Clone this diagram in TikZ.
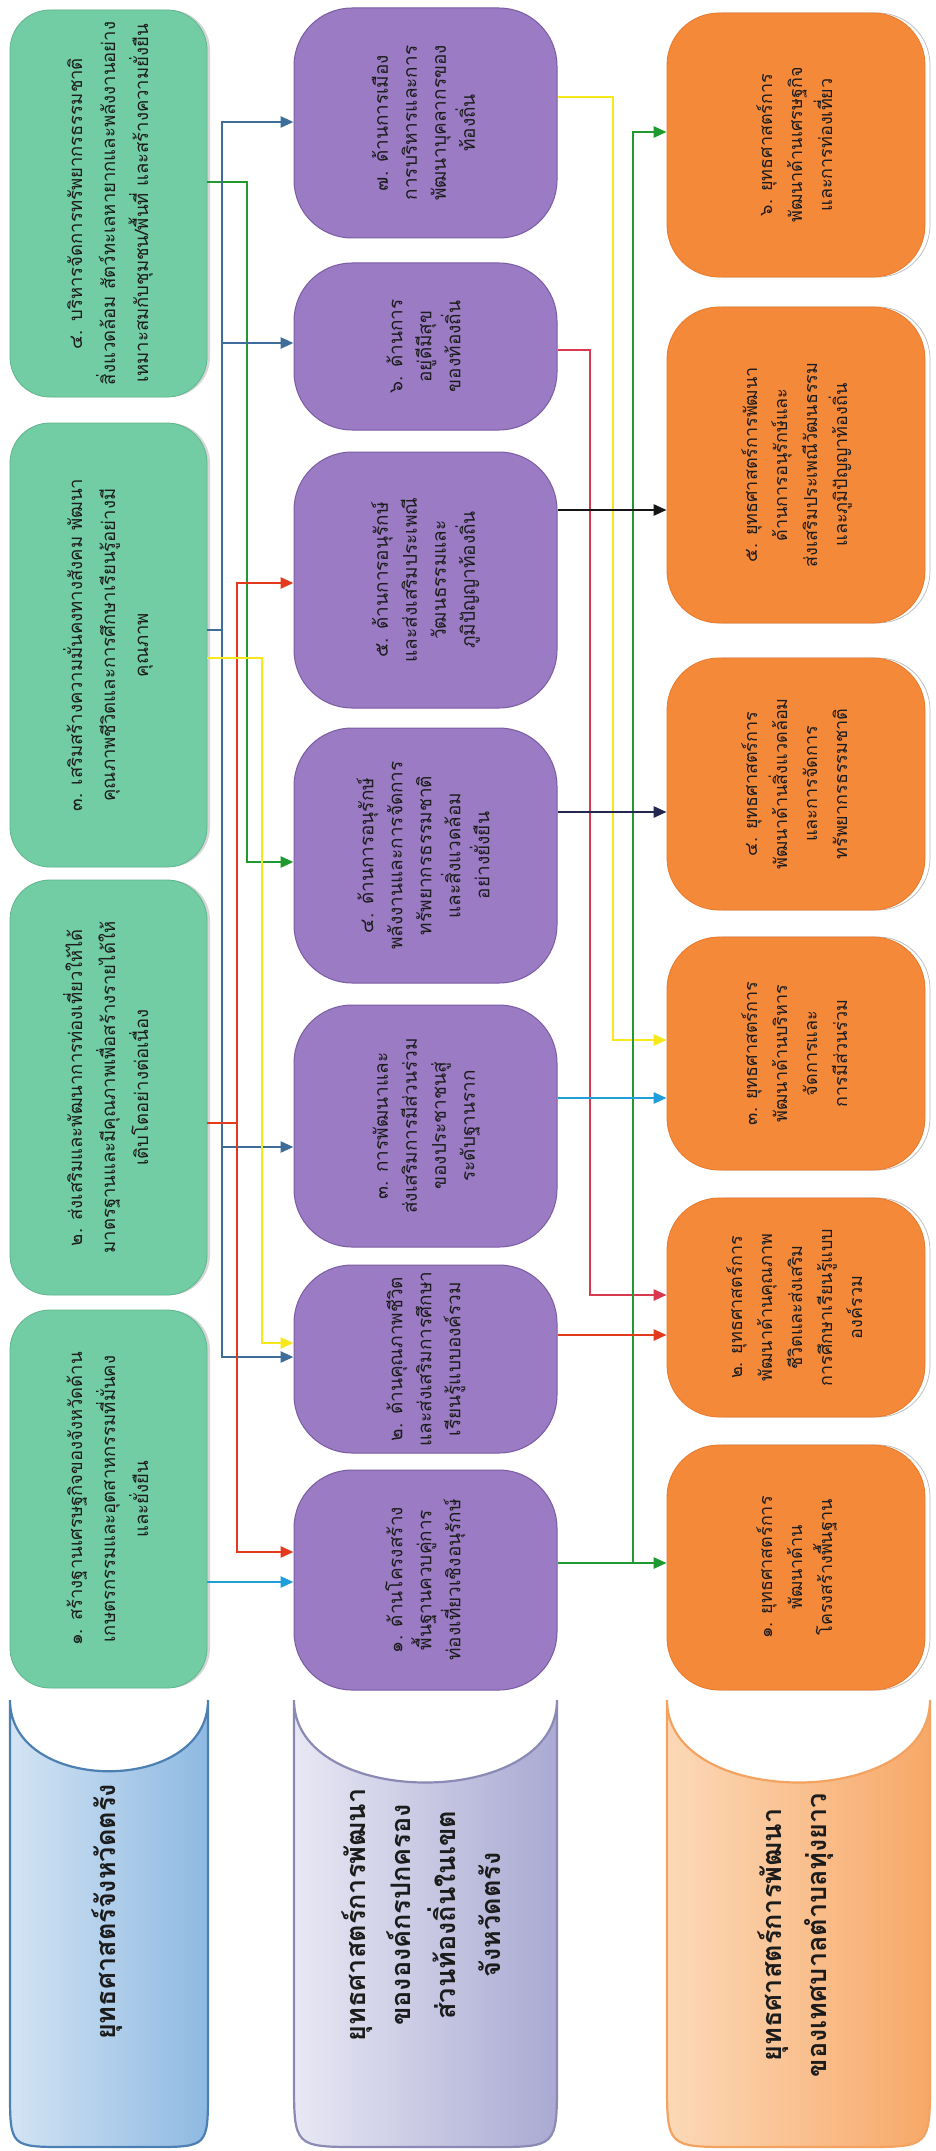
\documentclass[tikz,border=0pt]{standalone}
\usepackage{fontspec}
\newfontfamily\thai[Script=Thai]{Loma}
\usetikzlibrary{arrows.meta,shadows}
\definecolor{gfill}{HTML}{72CDA4}
\definecolor{gedge}{HTML}{5DB58E}
\definecolor{pfill}{HTML}{9B7CC4}
\definecolor{pedge}{HTML}{7A5CA2}
\definecolor{ofill}{HTML}{F5893A}
\definecolor{oedge}{HTML}{E9772A}
\definecolor{txt}{HTML}{1C1C1C}
\definecolor{csteel}{HTML}{3D6D98}
\definecolor{cred}{HTML}{E33A1E}
\definecolor{cgreen}{HTML}{1F9A30}
\definecolor{cyellow}{HTML}{F7E81A}
\definecolor{ccyan}{HTML}{1E9FD9}
\definecolor{cblack}{HTML}{151515}
\definecolor{cnavy}{HTML}{252650}
\definecolor{cpink}{HTML}{D8394F}
\definecolor{lbl}{HTML}{D3E4F4}
\definecolor{lbr}{HTML}{8EB9E2}
\definecolor{lbedge}{HTML}{4D80B2}
\definecolor{lvl}{HTML}{E8E8F4}
\definecolor{lvr}{HTML}{A9A9D3}
\definecolor{lvedge}{HTML}{8A8AB5}
\definecolor{lpl}{HTML}{FCD9B8}
\definecolor{lpr}{HTML}{F7A868}
\definecolor{lpedge}{HTML}{F3A260}
\newcommand{\vtx}[1]{\rotatebox{90}{\begin{tabular}{@{}c@{}}#1\end{tabular}}}
\tikzset{
  gbox/.style={draw=gedge, line width=0.8pt, fill=gfill, rounded corners=40pt, inner sep=0pt,
    general shadow={shadow xshift=3pt, fill=gray!55, opacity=0.6},
    text=txt, font=\thai\fontsize{18.5}{33}\selectfont},
  pbox/.style={draw=pedge, line width=1pt, fill=pfill, rounded corners=58pt, inner sep=0pt,
    text=txt, font=\thai\fontsize{19}{29}\selectfont},
  obox/.style={draw=oedge, line width=0.8pt, fill=ofill, rounded corners=52pt, inner sep=0pt,
    general shadow={shadow xshift=5pt, fill=white, draw=gray!55, line width=0.7pt},
    text=txt, font=\thai\fontsize{18}{30}\selectfont},
  legtext/.style={inner sep=0pt, text=txt, font=\thai\bfseries\fontsize{27}{45}\selectfont},
  conn/.style={line width=2.6pt, line join=miter},
  arr/.style={-{Triangle[length=13pt,width=11pt]}}
}
\begin{document}
\begin{tikzpicture}[x=1pt,y=-1pt]
\useasboundingbox (0,0) rectangle (935,2151);
\fill[white] (0,0) rectangle (935,2151);

% green column
\node[gbox, minimum width=197pt, minimum height=387pt] (G4) at (108.5,203.5)
  {\vtx{๔. บริหารจัดการทรัพยากรธรรมชาติ\\สิ่งแวดล้อม สัตว์ทะเลหายากและพลังงานอย่าง\\เหมาะสมกับชุมชน/พื้นที่ และสร้างความยั่งยืน}};
\node[gbox, minimum width=197pt, minimum height=444pt] (G3) at (108.5,645)
  {\vtx{๓. เสริมสร้างความมั่นคงทางสังคม พัฒนา\\คุณภาพชีวิตและการศึกษาเรียนรู้อย่างมี\\คุณภาพ}};
\node[gbox, minimum width=197pt, minimum height=415pt] (G2) at (108.5,1087.5)
  {\vtx{๒. ส่งเสริมและพัฒนาการท่องเที่ยวให้ได้\\มาตรฐานและมีคุณภาพเพื่อสร้างรายได้ให้\\เติบโตอย่างต่อเนื่อง}};
\node[gbox, minimum width=197pt, minimum height=378pt] (G1) at (108.5,1499)
  {\vtx{๑. สร้างฐานเศรษฐกิจของจังหวัดด้าน\\เกษตรกรรมและอุตสาหกรรมที่มั่นคง\\และยั่งยืน}};

% purple column
\node[pbox, minimum width=263pt, minimum height=230pt] (P7) at (425.5,123)
  {\vtx{๗. ด้านการเมือง\\การบริหารและการ\\พัฒนาบุคลากรของ\\ท้องถิ่น}};
\node[pbox, minimum width=263pt, minimum height=167pt] (P6) at (425.5,346.5)
  {\vtx{๖. ด้านการ\\อยู่ดีมีสุข\\ของท้องถิ่น}};
\node[pbox, minimum width=263pt, minimum height=256pt] (P5) at (425.5,580)
  {\vtx{๕. ด้านการอนุรักษ์\\และส่งเสริมประเพณี\\วัฒนธรรมและ\\ภูมิปัญญาท้องถิ่น}};
\node[pbox, minimum width=263pt, minimum height=255pt] (P4) at (425.5,855.5)
  {\vtx{๔. ด้านการอนุรักษ์\\พลังงานและการจัดการ\\ทรัพยากรธรรมชาติ\\และสิ่งแวดล้อม\\อย่างยั่งยืน}};
\node[pbox, minimum width=263pt, minimum height=242pt] (P3) at (425.5,1126)
  {\vtx{๓. การพัฒนาและ\\ส่งเสริมการมีส่วนร่วม\\ของประชาชนสู่\\ระดับฐานราก}};
\node[pbox, minimum width=263pt, minimum height=188pt] (P2) at (425.5,1359)
  {\vtx{๒. ด้านคุณภาพชีวิต\\และส่งเสริมการศึกษา\\เรียนรู้แบบองค์รวม}};
\node[pbox, minimum width=263pt, minimum height=220pt] (P1) at (425.5,1580)
  {\vtx{๑. ด้านโครงสร้าง\\พื้นฐานควบคู่การ\\ท่องเที่ยวเชิงอนุรักษ์}};

% orange column
\node[obox, minimum width=258pt, minimum height=264pt] (O6) at (796,145)
  {\vtx{๖. ยุทธศาสตร์การ\\พัฒนาด้านเศรษฐกิจ\\และการท่องเที่ยว}};
\node[obox, minimum width=258pt, minimum height=316pt] (O5) at (796,465)
  {\vtx{๕. ยุทธศาสตร์การพัฒนา\\ด้านการอนุรักษ์และ\\ส่งเสริมประเพณีวัฒนธรรม\\และภูมิปัญญาท้องถิ่น}};
\node[obox, minimum width=258pt, minimum height=252pt] (O4) at (796,784)
  {\vtx{๔. ยุทธศาสตร์การ\\พัฒนาด้านสิ่งแวดล้อม\\และการจัดการ\\ทรัพยากรธรรมชาติ}};
\node[obox, minimum width=258pt, minimum height=233pt] (O3) at (796,1053.5)
  {\vtx{๓. ยุทธศาสตร์การ\\พัฒนาด้านบริหาร\\จัดการและ\\การมีส่วนร่วม}};
\node[obox, minimum width=258pt, minimum height=219pt] (O2) at (796,1307.5)
  {\vtx{๒. ยุทธศาสตร์การ\\พัฒนาด้านคุณภาพ\\ชีวิตและส่งเสริม\\การศึกษาเรียนรู้แบบ\\องค์รวม}};
\node[obox, minimum width=258pt, minimum height=245pt] (O1) at (796,1567.5)
  {\vtx{๑. ยุทธศาสตร์การ\\พัฒนาด้าน\\โครงสร้างพื้นฐาน}};

% legends
\draw[line width=2.2pt, draw=lbedge, left color=lbl, right color=lbr]
  (10,1700) .. controls (10,1795) and (208,1795) .. (208,1700) -- (208,2090)
  .. controls (208,2147) .. (151,2147) -- (67,2147) .. controls (10,2147) .. (10,2090) -- cycle;
\draw[line width=2.2pt, draw=lvedge, left color=lvl, right color=lvr]
  (294,1700) .. controls (294,1810) and (557,1810) .. (557,1700) -- (557,2080)
  .. controls (557,2147) .. (490,2147) -- (361,2147) .. controls (294,2147) .. (294,2080) -- cycle;
\draw[line width=2.2pt, draw=lpedge, left color=lpl, right color=lpr]
  (667,1700) .. controls (667,1810) and (930,1810) .. (930,1700) -- (930,2080)
  .. controls (930,2147) .. (863,2147) -- (734,2147) .. controls (667,2147) .. (667,2080) -- cycle;
\node[legtext] (L1) at (106,1912) {\vtx{ยุทธศาสตร์จังหวัดตรัง}};
\node[legtext] (L2) at (424,1915) {\vtx{ยุทธศาสตร์การพัฒนา\\ขององค์กรปกครอง\\ส่วนท้องถิ่นในเขต\\จังหวัดตรัง}};
\node[legtext] (L3) at (795,1935) {\vtx{ยุทธศาสตร์การพัฒนา\\ของเทศบาลตำบลทุ่งยาว}};

% left gap connectors
\coordinate (sT) at (222,122);
\coordinate (s6) at (222,343);
\coordinate (sG) at (222,630);
\coordinate (s3) at (222,1147);
\coordinate (sB) at (222,1357);
\coordinate (rT) at (237,583);
\coordinate (rG) at (237,1123);
\coordinate (rB) at (237,1552);
\coordinate (gA) at (247,182);
\coordinate (gB) at (247,862);
\coordinate (yA) at (262,658);
\coordinate (yB) at (262,1343);
\coordinate (cA) at (0,1582);

\draw[conn,cgreen,arr] (G4.east |- gA) -- (gA) -- (gB) -- (P4.west |- gB);
\draw[conn,csteel,arr] (sG) -- (sT) -- (P7.west |- sT);
\draw[conn,csteel,arr] (sG) -- (sB) -- (P2.west |- sB);
\draw[conn,csteel,arr] (s6) -- (P6.west |- s6);
\draw[conn,csteel,arr] (s3) -- (P3.west |- s3);
\draw[conn,csteel] (G3.east |- sG) -- (sG);
\draw[conn,cred,arr] (rG) -- (rT) -- (P5.west |- rT);
\draw[conn,cred,arr] (rG) -- (rB) -- (P1.west |- rB);
\draw[conn,cred] (G2.east |- rG) -- (rG);
\draw[conn,cyellow,arr] (G3.east |- yA) -- (yA) -- (yB) -- (P2.west |- yB);
\draw[conn,ccyan,arr] (G1.east |- cA) -- (P1.west |- cA);

% right gap connectors
\coordinate (yC) at (613,97);
\coordinate (yD) at (613,1040);
\coordinate (rC) at (590,350);
\coordinate (rD) at (590,1295);
\coordinate (k5) at (0,510);
\coordinate (k4) at (0,812);
\coordinate (c3) at (0,1098);
\coordinate (r2) at (0,1335);
\coordinate (gC) at (633,1563);
\coordinate (gD) at (633,132);

\draw[conn,cpink,arr] (P6.east |- rC) -- (rC) -- (rD) -- (O2.west |- rD);
\draw[conn,cyellow,arr] (P7.east |- yC) -- (yC) -- (yD) -- (O3.west |- yD);
\draw[conn,cgreen,arr] (gC) -- (gD) -- (O6.west |- gD);
\draw[conn,cgreen,arr] (P1.east |- gC) -- (O1.west |- gC);
\draw[conn,cblack,arr] (P5.east |- k5) -- (O5.west |- k5);
\draw[conn,cnavy,arr] (P4.east |- k4) -- (O4.west |- k4);
\draw[conn,ccyan,arr] (P3.east |- c3) -- (O3.west |- c3);
\draw[conn,cred,arr] (P2.east |- r2) -- (O2.west |- r2);
\end{tikzpicture}
\end{document}
